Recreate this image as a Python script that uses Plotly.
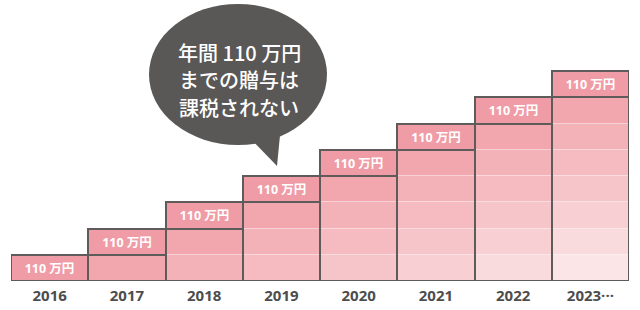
import plotly.graph_objects as go

years = ["2016", "2017", "2018", "2019", "2020", "2021", "2022", "2023···"]
counts = [1, 2, 3, 4, 5, 6, 7, 8]
block_label = "110 万円"
bubble_lines = ["年間 110 万円", "までの贈与は", "課税されない"]

# shade by distance from the top block (0 = top block)
shades = ["#f09ca6", "#f2a7af", "#f3b1b8", "#f5bbc1", "#f6c5ca", "#f8d0d4", "#f9dadd", "#fbe5e7"]
border = "#5f5b5a"
bubble_col = "#5a5857"

W, H = 640, 310
ML, MR, MT, MB = 11, 11, 0, 29
pw, ph = W - ML - MR, H - MT - MB
ymax = ph / 26.25

def px(x):
    return (x - ML) / pw

def py(y):
    return 1 - (y - MT) / ph

fig = go.Figure()

for k, col in enumerate(shades):
    xs = [y for y, c in zip(years, counts) if c > k]
    bases = [c - 1 - k for c in counts if c > k]
    fig.add_trace(go.Bar(
        x=xs, y=[1] * len(xs), base=bases,
        marker=dict(color=col, line=dict(color="rgba(255,255,255,0.2)", width=1)),
        hoverinfo="skip", showlegend=False,
    ))

# outline around lower blocks
lx = [y for y, c in zip(years, counts) if c > 1]
ly = [c - 1 for c in counts if c > 1]
fig.add_trace(go.Bar(
    x=lx, y=ly, base=[0] * len(lx),
    marker=dict(color="rgba(0,0,0,0)", line=dict(color=border, width=2)),
    hoverinfo="skip", showlegend=False,
))

# outline + label on top block
fig.add_trace(go.Bar(
    x=years, y=[1] * len(years), base=[c - 1 for c in counts],
    marker=dict(color="rgba(0,0,0,0)", line=dict(color=border, width=2)),
    text=[block_label] * len(years), textposition="inside",
    insidetextanchor="middle", textangle=0,
    textfont=dict(family="Open Sans, Noto Sans CJK JP", size=12.5, color="white", weight="bold"),
    hoverinfo="skip", showlegend=False,
))

# speech bubble
fig.add_shape(type="circle", xref="paper", yref="paper",
              x0=px(149), x1=px(327), y0=py(145), y1=py(4),
              fillcolor=bubble_col, line=dict(width=0, color=bubble_col), layer="above")
fig.add_shape(type="path", xref="paper", yref="paper",
              path=f"M {px(250)},{py(138)} L {px(277)},{py(166)} L {px(281)},{py(125)} Z",
              fillcolor=bubble_col, line=dict(width=0, color=bubble_col), layer="above")
for i, line in enumerate(bubble_lines):
    fig.add_annotation(xref="paper", yref="paper", x=px(239), y=py(53 + 27 * i),
                       xanchor="center", yanchor="middle",
                       text=line, showarrow=False, align="center",
                       font=dict(family="Noto Sans CJK JP", size=20, color="white", weight=500))

fig.update_layout(
    width=W, height=H,
    margin=dict(l=ML, r=MR, t=MT, b=MB),
    paper_bgcolor="white", plot_bgcolor="white",
    barmode="overlay", bargap=0,
    xaxis=dict(type="category", showgrid=False, zeroline=False, showline=False,
               ticks="", ticklabelstandoff=4,
               tickfont=dict(family="Open Sans", size=15, color="#4d4d4d", weight="bold")),
    yaxis=dict(range=[0, ymax], visible=False, showgrid=False, zeroline=False),
)

fig.write_html("out.html")
